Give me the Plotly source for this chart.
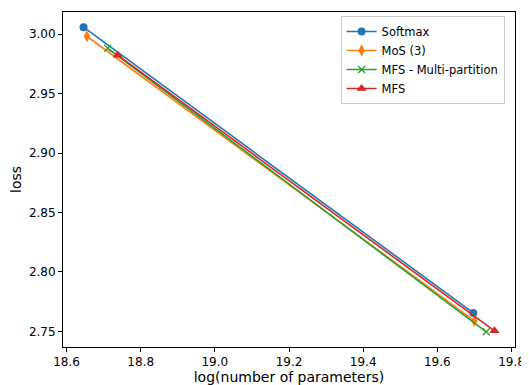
import plotly.graph_objects as go

series_names = ["Softmax", "MoS (3)", "MFS - Multi-partition", "MFS"]
softmax_x = [18.646, 19.697]
softmax_y = [3.0059, 2.7655]
mos_x = [18.655, 19.700]
mos_y = [2.9983, 2.7588]
mfs_mp_x = [18.711, 19.732]
mfs_mp_y = [2.9882, 2.7496]
mfs_x = [18.738, 19.754]
mfs_y = [2.9824, 2.7504]

x_ticks = [18.6, 18.8, 19.0, 19.2, 19.4, 19.6, 19.8]
y_ticks = [2.75, 2.80, 2.85, 2.90, 2.95, 3.00]

colors = ["#1f77b4", "#ff7f0e", "#2ca02c", "#d62728"]
symbols = ["circle", "diamond-tall", "x-thin", "triangle-up"]
sizes = [8, 9, 7, 9]

data = [(softmax_x, softmax_y), (mos_x, mos_y), (mfs_mp_x, mfs_mp_y), (mfs_x, mfs_y)]

fig = go.Figure()
for (xs, ys), name, c, s, sz in zip(data, series_names, colors, symbols, sizes):
    marker = dict(color=c, symbol=s, size=sz)
    if s == "x-thin":
        marker["line"] = dict(color=c, width=1.3)
    else:
        marker["line"] = dict(width=0)
    fig.add_trace(go.Scatter(x=xs, y=ys, mode="lines+markers", name=name,
                             line=dict(color=c, width=1.6), marker=marker))

font = dict(family="DejaVu Sans", size=12, color="black")
fig.update_layout(
    width=521, height=377,
    margin=dict(l=55, r=14, t=4, b=38),
    paper_bgcolor="white", plot_bgcolor="white",
    font=font,
    showlegend=True,
    legend=dict(x=0.977, y=0.988, xanchor="right", yanchor="top",
                bgcolor="rgba(255,255,255,0.8)", bordercolor="#cccccc", borderwidth=1,
                font=dict(family="DejaVu Sans", size=11.5, color="black"),
                itemwidth=30),
)
fig.update_xaxes(range=[18.5906, 19.8094], tickvals=x_ticks,
                 ticktext=[f"{v:.1f}" for v in x_ticks], automargin=False,
                 showline=True, mirror=True, linecolor="black", linewidth=1,
                 ticks="outside", ticklen=4, tickcolor="black", showgrid=False, zeroline=False,
                 title=dict(text="log(number of parameters)", standoff=6))
fig.update_yaxes(range=[2.7368, 3.0187], tickvals=y_ticks,
                 ticktext=[f"{v:.2f}" for v in y_ticks], automargin=False,
                 showline=True, mirror=True, linecolor="black", linewidth=1,
                 ticks="outside", ticklen=4, tickcolor="black", showgrid=False, zeroline=False,
                 title=dict(text="loss", standoff=8))

fig.write_html("out.html")
